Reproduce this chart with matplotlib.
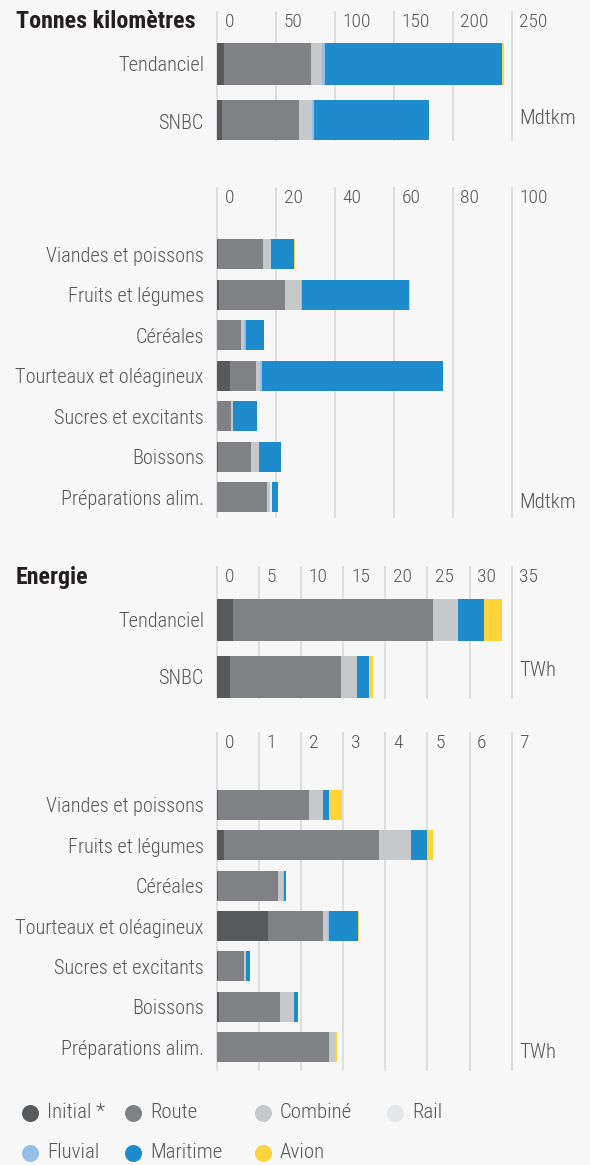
import matplotlib
matplotlib.use("Agg")
import matplotlib.pyplot as plt
from matplotlib import font_manager
import numpy as np

W, H = 590, 1165
BG = "#f7f7f7"
GRID = "#dcdcdc"
TEXT = "#555557"
DARK = "#231f20"

# ---- data ---------------------------------------------------------------
modes = ["Initial *", "Route", "Combiné", "Rail", "Fluvial", "Maritime", "Avion"]
mode_colors = ["#58595b", "#808184", "#c7c8ca", "#e6e7e8", "#93bfe6", "#1e8bcd", "#fdd43a"]

scenarios = ["Tendanciel", "SNBC"]
products = ["Viandes et poissons", "Fruits et légumes", "Céréales",
            "Tourteaux et oléagineux", "Sucres et excitants", "Boissons",
            "Préparations alim."]

# Tonnes-kilometres by scenario (Mdtkm)
tkm_scen_initial = [5.7, 4.2]
tkm_scen_route = [74.1, 65.4]
tkm_scen_combine = [9.6, 10.9]
tkm_scen_rail = [0.0, 0.0]
tkm_scen_fluvial = [1.9, 1.6]
tkm_scen_maritime = [150.4, 97.7]
tkm_scen_avion = [1.6, 0.0]

# Tonnes-kilometres by product (Mdtkm)
tkm_prod_initial = [0.2, 0.6, 0.1, 4.3, 0.1, 0.2, 0.1]
tkm_prod_route = [15.4, 22.4, 7.9, 8.8, 4.6, 11.3, 16.9]
tkm_prod_combine = [2.7, 5.6, 1.0, 1.4, 0.6, 2.7, 0.9]
tkm_prod_rail = [0.0, 0.0, 0.0, 0.0, 0.0, 0.0, 0.6]
tkm_prod_fluvial = [0.0, 0.2, 1.0, 0.9, 0.0, 0.0, 0.0]
tkm_prod_maritime = [7.8, 36.3, 5.9, 61.2, 8.2, 7.5, 2.2]
tkm_prod_avion = [0.25, 0.25, 0.0, 0.25, 0.0, 0.0, 0.0]

# Energy by scenario (TWh)
nrj_scen_initial = [1.9, 1.5]
nrj_scen_route = [23.8, 13.2]
nrj_scen_combine = [2.9, 1.9]
nrj_scen_rail = [0.0, 0.0]
nrj_scen_fluvial = [0.0, 0.0]
nrj_scen_maritime = [3.1, 1.5]
nrj_scen_avion = [2.2, 0.45]

# Energy by product (TWh)
nrj_prod_initial = [0.03, 0.17, 0.02, 1.20, 0.03, 0.05, 0.01]
nrj_prod_route = [2.15, 3.67, 1.42, 1.31, 0.60, 1.45, 2.65]
nrj_prod_combine = [0.34, 0.76, 0.12, 0.12, 0.05, 0.33, 0.15]
nrj_prod_rail = [0.0, 0.0, 0.0, 0.0, 0.02, 0.0, 0.0]
nrj_prod_fluvial = [0.0, 0.0, 0.02, 0.02, 0.0, 0.0, 0.0]
nrj_prod_maritime = [0.13, 0.40, 0.05, 0.71, 0.09, 0.10, 0.0]
nrj_prod_avion = [0.33, 0.12, 0.02, 0.02, 0.0, 0.0, 0.03]

# ---- fonts: prefer a narrow / condensed sans, light if available ---------
entries = font_manager.fontManager.ttflist
names = {f.name for f in entries}
FONT, k = None, 1.0
for cand in ["Liberation Sans Narrow", "Roboto Condensed", "Open Sans Condensed",
             "Noto Sans Condensed", "Noto Sans Display Condensed"]:
    if cand in names:
        FONT, k = dict(family=cand), 1.0
        break
if FONT is None:
    for fam in ["Roboto", "Noto Sans", "Open Sans", "DejaVu Sans"]:
        if any(f.name == fam and "condensed" in str(f.stretch) for f in entries):
            FONT = dict(family=fam, stretch="condensed")
            k = 0.95 if fam != "DejaVu Sans" else 0.86
            break
if FONT is None:
    FONT, k = dict(family="Roboto"), 0.78

LIGHT = dict(FONT)
if any(f.name == FONT["family"] and f.weight in (300, "light") for f in entries):
    LIGHT["weight"] = "light"

FS_CAT = 14.6 * k
FS_TICK = 14 * k
FS_LEG = 15 * k
FS_TITLE = 17.3 * k

plt.rcParams["font.family"] = FONT["family"]

fig = plt.figure(figsize=(W / 100, H / 100), dpi=100, facecolor=BG)

X0, X1 = 217, 511.7


def fig_xy(x, y):
    return x / W, 1 - y / H


def panel(top, bottom, cats, series, xmax, step, ylim):
    ax = fig.add_axes([X0 / W, 1 - bottom / H, (X1 - X0) / W, (bottom - top) / H])
    ax.set_facecolor("none")
    y = np.arange(len(cats))
    left = np.zeros(len(cats))
    for vals, col in zip(series, mode_colors):
        vals = np.asarray(vals, dtype=float)
        ax.barh(y, vals, left=left, height=0.74, color=col, linewidth=0, zorder=3)
        left += vals
    ax.set_xlim(0, xmax)
    ax.set_ylim(*ylim)
    for t in np.arange(0, xmax + step / 2, step):
        ax.axvline(t, color=GRID, lw=1.3, zorder=1, clip_on=False)
        ax.annotate(f"{t:g}", xy=(t, 1), xycoords=("data", "axes fraction"),
                    xytext=(5.5, -7.3), textcoords="offset points",
                    ha="left", va="center", color=TEXT, fontsize=FS_TICK, **LIGHT)
    ax.set_xticks([])
    ax.set_yticks(y)
    ax.set_yticklabels(cats, color=TEXT, fontsize=FS_CAT, **LIGHT)
    ax.tick_params(axis="y", length=0, pad=9.4)
    for s in ax.spines.values():
        s.set_visible(False)
    return ax


panel(12, 140, scenarios,
      [tkm_scen_initial, tkm_scen_route, tkm_scen_combine, tkm_scen_rail,
       tkm_scen_fluvial, tkm_scen_maritime, tkm_scen_avion],
      250, 50, (1.333, -0.912))
panel(188, 517, products,
      [tkm_prod_initial, tkm_prod_route, tkm_prod_combine, tkm_prod_rail,
       tkm_prod_fluvial, tkm_prod_maritime, tkm_prod_avion],
      100, 20, (6.49, -1.63))
panel(567, 698, scenarios,
      [nrj_scen_initial, nrj_scen_route, nrj_scen_combine, nrj_scen_rail,
       nrj_scen_fluvial, nrj_scen_maritime, nrj_scen_avion],
      35, 5, (1.37, -0.93))
panel(733, 1070, products,
      [nrj_prod_initial, nrj_prod_route, nrj_prod_combine, nrj_prod_rail,
       nrj_prod_fluvial, nrj_prod_maritime, nrj_prod_avion],
      7, 1, (6.57, -1.785))

# section titles
for label, yy in [("Tonnes kilomètres", 21), ("Energie", 578)]:
    fig.text(*fig_xy(16, yy), label, ha="left", va="center", fontsize=FS_TITLE,
             fontweight="bold", color=DARK, **FONT)

# units
for label, yy in [("Mdtkm", 118), ("Mdtkm", 502), ("TWh", 671), ("TWh", 1053)]:
    fig.text(*fig_xy(519, yy), label, ha="left", va="center", fontsize=FS_LEG,
             color=TEXT, **LIGHT)

# legend
leg = fig.add_axes([0, 0, 1, 1], facecolor="none")
leg.set_xlim(0, W)
leg.set_ylim(H, 0)
leg.axis("off")
leg_cols = [30, 133, 263, 395]
leg_rows = [1113, 1153]
for i, (name, col) in enumerate(zip(modes, mode_colors)):
    lx = leg_cols[i % 4]
    ly = leg_rows[i // 4]
    leg.scatter([lx], [ly], s=150, color=col, linewidths=0)
    leg.text(lx + 17, ly, name, ha="left", va="center", fontsize=FS_LEG,
             color=TEXT, **LIGHT)

fig.savefig("out.png", dpi=100, facecolor=BG)
